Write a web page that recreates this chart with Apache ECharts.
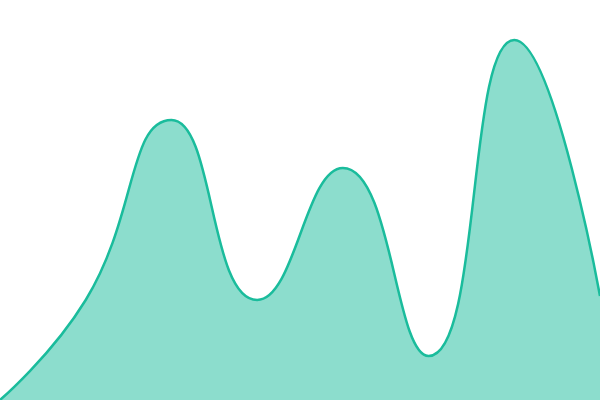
<!DOCTYPE html>
<html><head><meta charset="utf-8">
<script src="https://cdn.jsdelivr.net/npm/echarts@6/dist/echarts.min.js"></script>
<style>html,body{margin:0;padding:0;background:#fff}#c{width:600px;height:400px}</style>
</head><body><div id="c"></div>
<script>
const categories = ['1','2','3','4','5','6','7','8'];
const values = [0, 25, 70, 25, 58, 11, 90, 26];
const chart = echarts.init(document.getElementById('c'));
chart.setOption({
  animation: false,
  grid: {left: 0, right: 0, top: 0, bottom: 0},
  xAxis: {type: 'category', data: categories, boundaryGap: false, show: false},
  yAxis: {type: 'value', min: 0, max: 100, show: false},
  series: [{
    type: 'line', data: values, smooth: true, symbol: 'none',
    lineStyle: {color: '#1abc9c', width: 2.5},
    areaStyle: {color: '#1abc9c', opacity: 0.5}
  }]
});
</script></body></html>
